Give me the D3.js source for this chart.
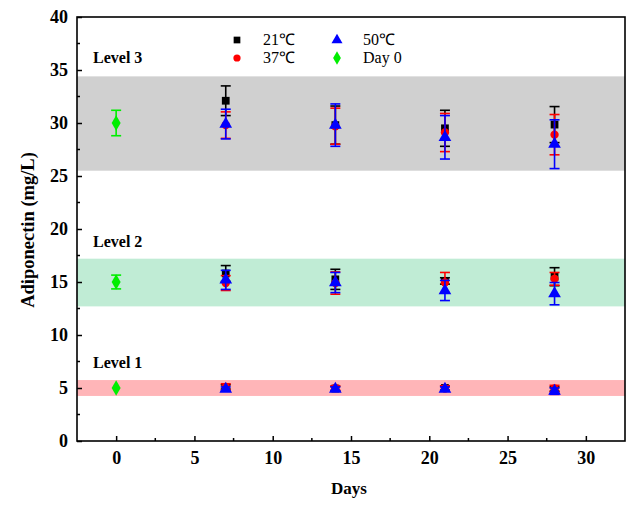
<!DOCTYPE html>
<html><head><meta charset="utf-8">
<script src="https://cdn.jsdelivr.net/npm/d3@7"></script>
<style>body{margin:0;background:#fff;}svg{display:block;}</style>
</head><body><svg id="c" width="643" height="508"></svg>
<script>
const days = [0, 7, 14, 21, 28];
// values per level for days 7..28 (index 1..4); day 0 only in "day0"
const day0Mean = [5, 15, 30];
const day0Err = [0, 0.65, 1.2];
const t21Mean = [[5.1, 4.95, 5.0, 4.9], [15.8, 15.25, 15.1, 15.5], [32.1, 29.8, 29.5, 29.85]];
const t21Err  = [[0.2, 0.2, 0.2, 0.2], [0.75, 0.95, 0.3, 0.85], [1.4, 1.8, 1.7, 1.7]];
const t37Mean = [[5.1, 5.0, 4.95, 4.95], [14.9, 14.9, 14.95, 15.3], [29.8, 29.7, 29.1, 28.9]];
const t37Err  = [[0.3, 0.2, 0.25, 0.3], [0.7, 1.05, 0.95, 0.6], [1.25, 1.7, 1.8, 1.9]];
const t50Mean = [[4.9, 4.9, 4.9, 4.7], [15.2, 14.95, 14.2, 13.9], [29.9, 29.8, 28.65, 28.0]];
const t50Err  = [[0.2, 0.2, 0.2, 0.3], [0.9, 0.95, 0.95, 1.05], [1.4, 2.0, 2.05, 2.3]];
const bands = [[4.25, 5.75], [12.7, 17.2], [25.5, 34.4]];
const bandColors = ["#ffb5b8", "#c0ecd5", "#d0d0d0"];
const levelLabels = ["Level 1", "Level 2", "Level 3"];
const levelLabelY = [6.9, 18.3, 35.65];
const xTicks = [0, 5, 10, 15, 20, 25, 30];
const yTicks = [0, 5, 10, 15, 20, 25, 30, 35, 40];
const legendNames = ["21\u2103", "37\u2103", "50\u2103", "Day  0"];

const svg = d3.select("#c");
const L = 77, R = 625, T = 17, B = 441;
const x = d3.scaleLinear().domain([-2.5, 32.5]).range([L, R]);
const y = d3.scaleLinear().domain([0, 40]).range([B, T]);
const serif = "'Liberation Serif','Times New Roman',serif";

// bands
bands.forEach((b, i) => {
  svg.append("rect").attr("x", L).attr("width", R - L)
    .attr("y", y(b[1])).attr("height", y(b[0]) - y(b[1]))
    .attr("fill", bandColors[i]);
  svg.append("text").attr("x", 93).attr("y", y(levelLabelY[i]))
    .attr("font-family", serif).attr("font-weight", "bold").attr("font-size", 16)
    .text(levelLabels[i]);
});

// axes
const xAxis = d3.axisBottom(x).tickValues(xTicks).tickSize(-5).tickPadding(10).tickFormat(d3.format("d"));
const gx = svg.append("g").attr("transform", `translate(0,${B})`).call(xAxis);
const yAxis = d3.axisLeft(y).tickValues(yTicks).tickSize(-5).tickPadding(9).tickFormat(d3.format("d"));
const gy = svg.append("g").attr("transform", `translate(${L},0)`).call(yAxis);
[gx, gy].forEach(g => {
  g.select(".domain").remove();
  g.selectAll("line").attr("stroke", "#000").attr("stroke-width", 1.5);
  g.selectAll("text").attr("font-family", serif).attr("font-weight", "bold")
    .attr("font-size", 18).attr("fill", "#000");
});
// minor ticks
const xMinor = d3.range(2.5, 32.5, 5);
svg.append("g").selectAll("line").data(xMinor).join("line")
  .attr("x1", d => x(d)).attr("x2", d => x(d)).attr("y1", B).attr("y2", B - 3)
  .attr("stroke", "#000").attr("stroke-width", 1.5);
const yMinor = d3.range(2.5, 40, 5);
svg.append("g").selectAll("line").data(yMinor).join("line")
  .attr("y1", d => y(d)).attr("y2", d => y(d)).attr("x1", L).attr("x2", L + 3)
  .attr("stroke", "#000").attr("stroke-width", 1.5);
svg.append("rect").attr("x", L).attr("y", T).attr("width", R - L).attr("height", B - T)
  .attr("fill", "none").attr("stroke", "#000").attr("stroke-width", 1.6);

// titles
svg.append("text").attr("x", (L + R) / 2 - 2).attr("y", 494).attr("text-anchor", "middle")
  .attr("font-family", serif).attr("font-weight", "bold").attr("font-size", 17).text("Days");
svg.append("text").attr("transform", `translate(34,${(T + B) / 2 + 1}) rotate(-90)`)
  .attr("text-anchor", "middle").attr("font-family", serif).attr("font-weight", "bold")
  .attr("font-size", 18.5).text("Adiponectin (mg/L)");

// series
const symbols = [d3.symbolSquare, d3.symbolCircle, d3.symbolTriangle, d3.symbolDiamond];
const symSize = [60, 55, 70, 70];
const colors = ["#000000", "#ff0000", "#0000ff", "#00ee00"];
const series = [
  { m: t21Mean, e: t21Err }, { m: t37Mean, e: t37Err }, { m: t50Mean, e: t50Err }
];
const pts = [];
series.forEach((s, si) => {
  s.m.forEach((lvl, li) => lvl.forEach((v, di) => {
    pts.push({ s: si, x: days[di + 1], v: v, e: s.e[li][di] });
  }));
});
day0Mean.forEach((v, i) => pts.push({ s: 3, x: days[0], v: v, e: day0Err[i] }));

const cap = 5;
[0, 1, 2, 3].forEach(si => {
  const g = svg.append("g");
  const d = pts.filter(p => p.s === si);
  const eb = g.selectAll("g.eb").data(d.filter(p => p.e > 0)).join("g")
    .attr("stroke", colors[si]).attr("stroke-width", 1.6);
  eb.append("line").attr("x1", p => x(p.x)).attr("x2", p => x(p.x))
    .attr("y1", p => y(p.v + p.e)).attr("y2", p => y(p.v - p.e));
  eb.append("line").attr("x1", p => x(p.x) - cap).attr("x2", p => x(p.x) + cap)
    .attr("y1", p => y(p.v + p.e)).attr("y2", p => y(p.v + p.e));
  eb.append("line").attr("x1", p => x(p.x) - cap).attr("x2", p => x(p.x) + cap)
    .attr("y1", p => y(p.v - p.e)).attr("y2", p => y(p.v - p.e));
  g.selectAll("path").data(d).join("path")
    .attr("transform", p => `translate(${x(p.x)},${y(p.v)})`)
    .attr("d", d3.symbol().type(symbols[si]).size(symSize[si]))
    .attr("fill", colors[si]);
});

// legend
const legPos = [[237, 40], [237, 58], [337, 40], [337, 58]];
legendNames.forEach((n, i) => {
  svg.append("path").attr("transform", `translate(${legPos[i][0]},${legPos[i][1]})`)
    .attr("d", d3.symbol().type(symbols[i]).size(symSize[i] * 0.75)).attr("fill", colors[i]);
  svg.append("text").attr("x", legPos[i][0] + 26).attr("y", legPos[i][1] + 5)
    .attr("font-family", serif).attr("font-size", 16).text(n);
});
</script></body></html>
